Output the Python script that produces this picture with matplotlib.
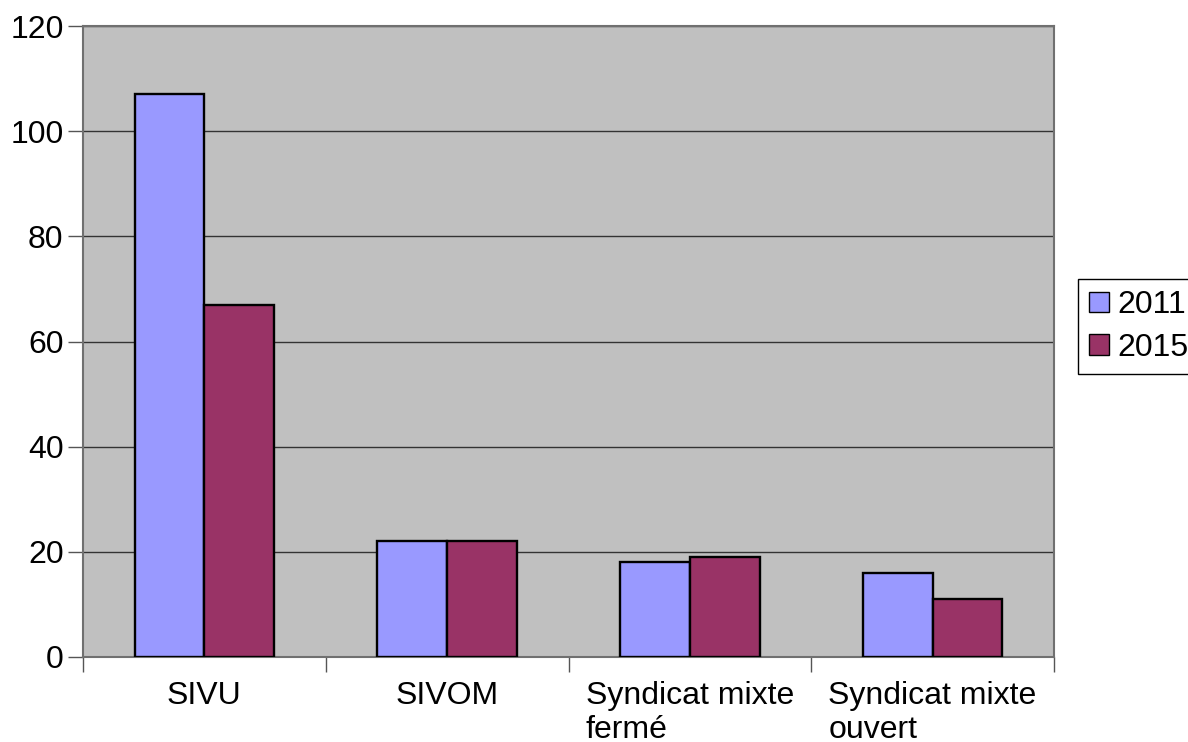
import numpy as np
import matplotlib
matplotlib.use("Agg")
import matplotlib.pyplot as plt

categories = ["SIVU", "SIVOM", "Syndicat mixte\nfermé", "Syndicat mixte\nouvert"]
years = ["2011", "2015"]
values_2011 = [107, 22, 18, 16]
values_2015 = [67, 22, 19, 11]
colors = ["#9999ff", "#993366"]

plt.rcParams["font.family"] = ["Liberation Sans", "DejaVu Sans"]
plt.rcParams["font.size"] = 23

fig = plt.figure(figsize=(11.88, 7.42), dpi=100)
ax = fig.add_axes([83 / 1188, 85 / 742, 971 / 1188, 631 / 742])
ax.set_facecolor("#c0c0c0")

x = np.arange(len(categories))
w = 0.287
ax.bar(x - w / 2, values_2011, w, color=colors[0], edgecolor="black", linewidth=1.7, label=years[0], zorder=3)
ax.bar(x + w / 2, values_2015, w, color=colors[1], edgecolor="black", linewidth=1.7, label=years[1], zorder=3)

ax.set_xlim(-0.5, len(categories) - 0.5)
ax.set_ylim(0, 120)
ax.set_yticks(np.arange(0, 121, 20))
ax.yaxis.grid(True, color="#333333", linewidth=1.0, zorder=1)
ax.set_axisbelow(True)

# category labels between boundary ticks
ax.set_xticks(x, labels=categories, multialignment="left", va="top")
ax.set_xticks(np.arange(-0.5, len(categories)), minor=True)
ax.tick_params(axis="x", which="major", length=0, pad=17)
ax.tick_params(axis="x", which="minor", length=11, width=1, color="#555555", direction="out")
ax.tick_params(axis="y", length=11, width=1, color="#555555", pad=3)

for s in ax.spines.values():
    s.set_color("#707070")
    s.set_linewidth(1.5)

leg = fig.legend(loc="upper left", bbox_to_anchor=(1078 / 1188, 1 - 279 / 742),
                 frameon=True, fancybox=False, edgecolor="black", framealpha=1,
                 handlelength=0.62, handleheight=0.62, handletextpad=0.25,
                 borderpad=0.35, labelspacing=0.4, borderaxespad=0)
leg.get_frame().set_linewidth(1.0)
for h in leg.legend_handles:
    h.set_linewidth(1.0)

fig.savefig("out.png", dpi=100)
